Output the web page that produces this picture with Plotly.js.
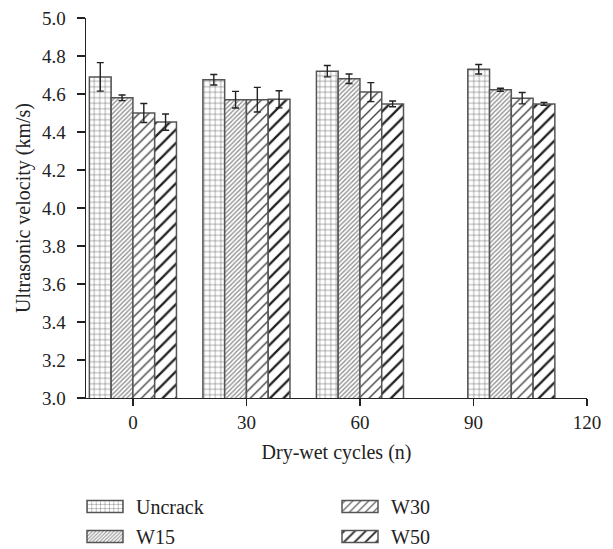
<!DOCTYPE html>
<html>
<head>
<meta charset="utf-8">
<script src="https://cdn.plot.ly/plotly-3.0.1.min.js"></script>
<style>
  html, body { margin: 0; padding: 0; background: #fff; }
  #chart { width: 613px; height: 549px; }
</style>
</head>
<body>
<div id="chart"></div>
<script>
// Bar group positions on the numeric x axis (the last group is drawn right of the 90 tick in the source)
const groupX = [0, 30, 60, 100];
const tickVals = [0, 30, 60, 90, 120];

const seriesNames = ["Uncrack", "W15", "W30", "W50"];
const uncrack    = [4.69, 4.675, 4.72, 4.73];
const uncrackErr = [0.075, 0.028, 0.030, 0.025];
const w15        = [4.58, 4.57, 4.68, 4.622];
const w15Err     = [0.015, 0.044, 0.025, 0.008];
const w30        = [4.50, 4.57, 4.61, 4.578];
const w30Err     = [0.050, 0.065, 0.050, 0.030];
const w50        = [4.452, 4.572, 4.548, 4.548];
const w50Err     = [0.043, 0.045, 0.015, 0.008];

const values = [uncrack, w15, w30, w50];
const errors = [uncrackErr, w15Err, w30Err, w50Err];
const patterns = [
  {shape: "+", size: 5.5, solidity: 0.16, fgcolor: "#555", bgcolor: "#fff"},
  {shape: "/", size: 3.2, solidity: 0.38, fgcolor: "#888", bgcolor: "#fff"},
  {shape: "/", size: 7,   solidity: 0.2,  fgcolor: "#444", bgcolor: "#fff"},
  {shape: "/", size: 9.5, solidity: 0.24, fgcolor: "#222", bgcolor: "#fff"}
];
// one legend box per entry, laid out as two columns x two rows
const legendIds = ["legend", "legend3", "legend2", "legend4"];

const serif = "Liberation Serif, DejaVu Serif, serif";

const traces = seriesNames.map((name, i) => ({
  type: "bar",
  name: name,
  x: groupX,
  y: values[i],
  base: 0,
  legend: legendIds[i],
  marker: {
    color: "#fff",
    line: {color: "#555", width: 1.5},
    pattern: patterns[i]
  },
  error_y: {type: "data", array: errors[i], visible: true, color: "#222", thickness: 1.4, width: 3.5}
}));

function legendBox(xPx, topPx) {
  return {
    orientation: "h",
    xref: "container",
    x: xPx / 613,
    xanchor: "left",
    yref: "container",
    y: (549 - topPx) / 549,
    yanchor: "top",
    entrywidth: 180,
    entrywidthmode: "pixels",
    font: {family: serif, size: 20, color: "#222"},
    itemclick: false,
    bgcolor: "rgba(0,0,0,0)"
  };
}

const layout = {
  width: 613,
  height: 549,
  margin: {l: 86, r: 26, t: 18, b: 151},
  paper_bgcolor: "#fff",
  plot_bgcolor: "#fff",
  barmode: "group",
  bargap: 0.233,
  bargroupgap: 0,
  font: {family: serif, size: 19, color: "#222"},
  showlegend: true,
  legend:  legendBox(96, 487),
  legend2: legendBox(351, 487),
  legend3: legendBox(96, 517),
  legend4: legendBox(351, 517),
  xaxis: {
    range: [-12.4, 120],
    tickmode: "array",
    tickvals: tickVals,
    ticktext: tickVals.map(String),
    ticks: "outside",
    ticklen: 7,
    tickwidth: 1.2,
    tickcolor: "#222",
    showline: true,
    linecolor: "#222",
    linewidth: 1.4,
    showgrid: false,
    zeroline: false,
    tickfont: {family: serif, size: 19, color: "#222"},
    title: {text: "Dry-wet cycles (n)", font: {family: serif, size: 20, color: "#222"}, standoff: 12}
  },
  yaxis: {
    range: [3.0, 5.0],
    dtick: 0.2,
    tick0: 3.0,
    tickformat: ".1f",
    ticks: "outside",
    ticklen: 8,
    tickwidth: 1.2,
    tickcolor: "#222",
    showline: true,
    linecolor: "#222",
    linewidth: 1.4,
    showgrid: false,
    zeroline: false,
    ticklabelstandoff: 7,
    tickfont: {family: serif, size: 19, color: "#222"},
    title: {text: "Ultrasonic velocity (km/s)", font: {family: serif, size: 20, color: "#222"}, standoff: 6}
  }
};

function restyleLegendSwatches(gd) {
  // widen the legend swatches into flat rectangles placed left of the label with a gap
  gd.querySelectorAll(".legendpoints path").forEach(p => {
    p.setAttribute("d", "M-29,6H7V-6H-29Z");
  });
  gd.querySelectorAll(".infolayer [clip-path]").forEach(el => {
    if (el.closest("[class^='legend']")) el.removeAttribute("clip-path");
  });
}

const gdEl = document.getElementById("chart");
Plotly.newPlot(gdEl, traces, layout, {staticPlot: true, displayModeBar: false}).then(gd => {
  restyleLegendSwatches(gd);
  gd.on("plotly_afterplot", () => restyleLegendSwatches(gd));
  setTimeout(() => restyleLegendSwatches(gd), 50);
});
</script>
</body>
</html>
